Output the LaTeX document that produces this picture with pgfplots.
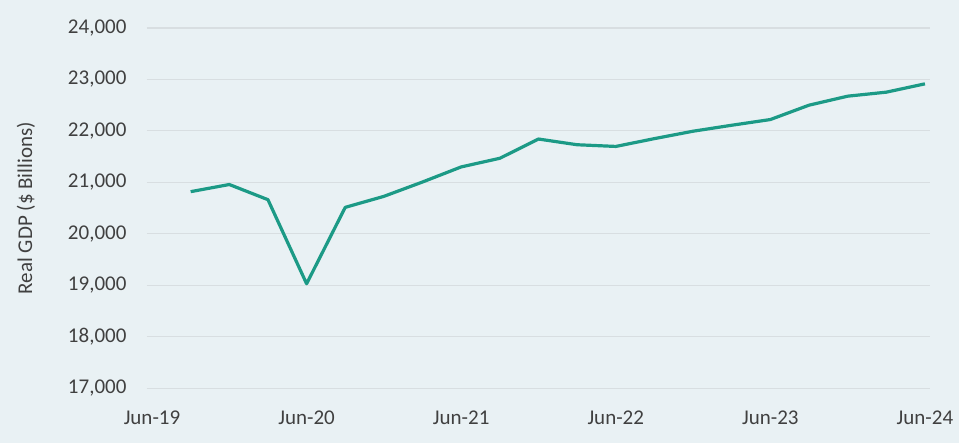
\documentclass[border=0pt]{standalone}
\usepackage{pgfplots}
\pgfplotsset{compat=1.18}
\usepackage{fontspec}
\setmainfont{Carlito}
\definecolor{bgc}{HTML}{E9F1F4}
\definecolor{linec}{HTML}{1C9A86}
\definecolor{gridc}{HTML}{D8DEE1}
\definecolor{txtc}{HTML}{404040}
\begin{document}
\begin{tikzpicture}
\fill[bgc] (-110pt,-41.25pt) rectangle (609pt,291pt);
\useasboundingbox (-110pt,-41.25pt) rectangle (609pt,291pt);
\begin{axis}[
  scale only axis,
  width=587.25pt, height=270pt,
  xmin=-0.137, xmax=20.13,
  ymin=17000, ymax=24000,
  axis line style={draw=none},
  major tick length=0pt,
  scaled y ticks=false,
  xtick={0,4,8,12,16,20},
  xticklabels={Jun-19,Jun-20,Jun-21,Jun-22,Jun-23,Jun-24},
  ytick={17000,18000,19000,20000,21000,22000,23000,24000},
  yticklabels={17{,}000,18{,}000,19{,}000,20{,}000,21{,}000,22{,}000,23{,}000,24{,}000},
  ymajorgrids,
  grid style={gridc, line width=0.8pt},
  tick label style={font=\fontsize{15.75}{18}\selectfont, text=txtc},
  yticklabel style={anchor=east, inner sep=0pt, xshift=-15pt},
  xticklabel style={anchor=north, inner sep=0pt, yshift=-16.5pt},
  ylabel={Real GDP (\$ Billions)},
  every axis y label/.style={at={(axis description cs:-0.1541,0.5)}, rotate=90, anchor=center, font=\fontsize{15.75}{18}\selectfont, text=txtc},
  clip=false,
]
\addplot[linec, line width=2.4pt, line join=round] coordinates {
(1,20819) (2,20958) (3,20663) (4,19029) (5,20514) (6,20728) (7,21007)
(8,21300) (9,21468) (10,21842) (11,21731) (12,21698) (13,21850)
(14,21994) (15,22110) (16,22221) (17,22500) (18,22675) (19,22753) (20,22915)
};
\end{axis}
\end{tikzpicture}
\end{document}
